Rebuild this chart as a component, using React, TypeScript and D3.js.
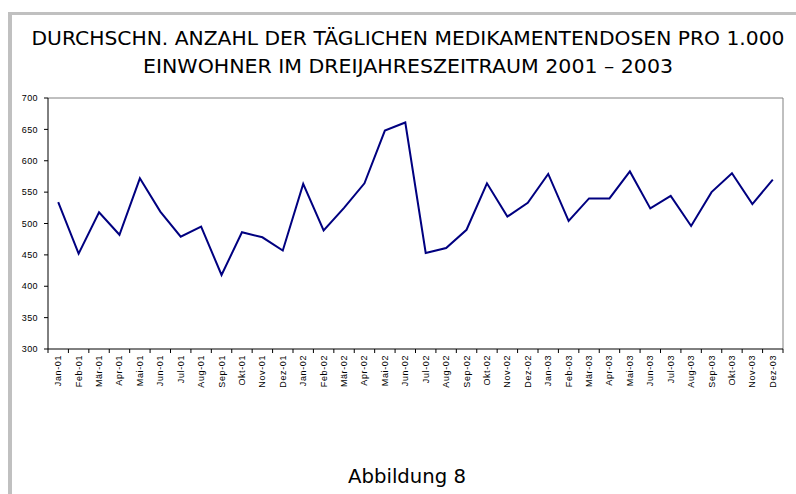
import React from 'react';
import * as d3 from 'd3';

const months = ['Jan', 'Feb', 'Mär', 'Apr', 'Mai', 'Jun', 'Jul', 'Aug', 'Sep', 'Okt', 'Nov', 'Dez'];
const years = ['01', '02', '03'];
const categories = years.flatMap(y => months.map(m => `${m}-${y}`));

const values2001 = [534, 452, 518, 482, 572, 519, 479, 495, 418, 486, 478, 457];
const values2002 = [563, 489, 525, 564, 648, 661, 453, 461, 490, 564, 511, 533];
const values2003 = [579, 504, 540, 540, 583, 524, 544, 496, 550, 580, 531, 570];
const values = [...values2001, ...values2002, ...values2003];

const yTicks = [300, 350, 400, 450, 500, 550, 600, 650, 700];

const titleLines = [
  'DURCHSCHN. ANZAHL DER TÄGLICHEN MEDIKAMENTENDOSEN PRO 1.000',
  'EINWOHNER IM DREIJAHRESZEITRAUM 2001 – 2003',
];

const W = 796;
const H = 494;
const plot = { left: 48, right: 783, top: 98, bottom: 349 };

export default function App() {
  const x = d3.scaleBand<string>().domain(categories).range([plot.left, plot.right]);
  const y = d3.scaleLinear().domain([300, 700]).range([plot.bottom, plot.top]);

  const line = d3.line<number>()
    .x((_, i) => (x(categories[i]) ?? 0) + x.bandwidth() / 2)
    .y(d => y(d));

  const tickXs = [...categories.map(c => x(c) ?? 0), plot.right];

  return (
    <svg width={W} height={H} style={{ position: 'absolute', left: 0, top: 0, background: '#fff' }}>
      {/* frame */}
      <rect x={8} y={12} width={W - 8} height={3} fill="#c0c0c0" />
      <rect x={8} y={12} width={4} height={H - 12} fill="#c0c0c0" />

      {titleLines.map((t, i) => (
        <text
          key={i}
          x={408}
          y={i === 0 ? 45 : 73}
          textAnchor="middle"
          fontFamily="'DejaVu Sans', sans-serif"
          fontSize={19}
          fill="#000"
          textLength={i === 0 ? 753 : 530}
          lengthAdjust="spacingAndGlyphs"
        >
          {t}
        </text>
      ))}

      {/* plot border */}
      <line x1={plot.left} x2={plot.right} y1={plot.top} y2={plot.top} stroke="#808080" strokeWidth={1} />
      <line x1={plot.right} x2={plot.right} y1={plot.top} y2={plot.bottom} stroke="#808080" strokeWidth={1} />

      {/* y axis */}
      <line x1={plot.left} x2={plot.left} y1={plot.top} y2={plot.bottom} stroke="#000" strokeWidth={1} />
      {yTicks.map(t => (
        <g key={t}>
          <line x1={plot.left - 4} x2={plot.left} y1={y(t)} y2={y(t)} stroke="#000" />
          <text
            x={plot.left - 10}
            y={y(t)}
            dy="0.35em"
            textAnchor="end"
            fontFamily="'Liberation Sans', Arial, sans-serif"
            fontSize={9}
            letterSpacing={0.4}
            fill="#000"
          >
            {t}
          </text>
        </g>
      ))}

      {/* x axis */}
      <line x1={plot.left} x2={plot.right} y1={plot.bottom} y2={plot.bottom} stroke="#000" strokeWidth={1} />
      {tickXs.map((tx, i) => (
        <line key={i} x1={tx} x2={tx} y1={plot.bottom} y2={plot.bottom + 4} stroke="#000" />
      ))}
      {categories.map(c => {
        const cx = (x(c) ?? 0) + x.bandwidth() / 2;
        const ty = plot.bottom + 6;
        return (
          <text
            key={c}
            transform={`translate(${cx + 3},${ty}) rotate(-90)`}
            textAnchor="end"
            fontFamily="'Liberation Sans', Arial, sans-serif"
            fontSize={9}
            letterSpacing={0.6}
            fill="#000"
          >
            {c}
          </text>
        );
      })}

      <path d={line(values) ?? ''} fill="none" stroke="#000080" strokeWidth={2} strokeLinejoin="miter" />

      <text
        x={407}
        y={483}
        textAnchor="middle"
        fontFamily="'DejaVu Sans', sans-serif"
        fontSize={19}
        fill="#000"
        textLength={118}
        lengthAdjust="spacingAndGlyphs"
      >
        Abbildung 8
      </text>
    </svg>
  );
}
